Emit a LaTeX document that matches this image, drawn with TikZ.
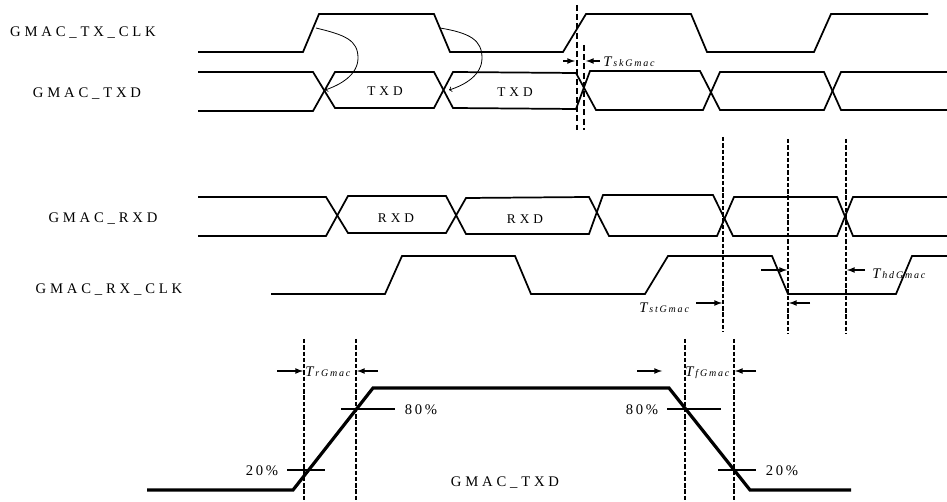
\documentclass[tikz,border=0pt]{standalone}
\usepackage{fontspec}
\setmainfont{Liberation Serif}
\newfontfamily\sigfont[LetterSpace=26]{Liberation Serif}
\newfontfamily\datafont[LetterSpace=30]{Liberation Serif}
\newfontfamily\pctfont[LetterSpace=18]{Liberation Serif}
\newfontfamily\subfont[LetterSpace=18,Ligatures=NoCommon]{Liberation Serif}
\newcommand{\tparam}[1]{{\fontsize{11}{11}\selectfont\itshape T}\hspace{1.5pt}{\subfont\fontsize{7.5}{8}\selectfont\itshape #1}}
\tikzset{
	signal/.style={line width=1.3pt, line join=miter},
	edge/.style={line width=2.4pt, line join=miter},
	marker/.style={line width=1.1pt, dash pattern=on 3.3pt off 1.4pt},
	heavymarker/.style={line width=2.2pt, dash pattern=on 4.5pt off 2.4pt},
	measure/.style={line width=1pt, ->, >=latex},
	level/.style={line width=1pt},
	siglabel/.style={font=\sigfont\fontsize{11}{11}\selectfont, inner sep=0pt},
	datalabel/.style={font=\datafont\fontsize{10}{10}\selectfont, inner sep=0pt},
	pctlabel/.style={font=\pctfont\fontsize{11}{11}\selectfont, inner sep=0pt},
	paramlabel/.style={anchor=west, inner sep=0pt}
}
\begin{document}
\begin{tikzpicture}[x=0.75pt, y=-0.75pt]
		\useasboundingbox (0,0) rectangle (947,502);
		%signal names
		\node[siglabel] (txclk) at (83, 33){GMAC\_TX\_CLK};
		\node[siglabel] (txd) at (87, 94){GMAC\_TXD};
		\node[siglabel] (rxd) at (103, 219){GMAC\_RXD};
		\node[siglabel] (rxclk) at (109, 290){GMAC\_RX\_CLK};
		\node[siglabel] (edgetxd) at (505, 483){GMAC\_TXD};

		\node[datalabel] (txda) at (385, 91){TXD};
		\node[datalabel] (txdb) at (515, 92){TXD};
		\node[datalabel] (rxda) at (396, 218){RXD};
		\node[datalabel] (rxdb) at (525, 219){RXD};

		%transmit clock
		\draw[signal] (198,52) -- (303,52) -- (319,14) -- (434,14) -- (450,52) -- (563,52) -- (586,14) -- (691,14) -- (707,52) -- (814,52) -- (831,14) -- (928,14);

		%transmit data
		\draw[signal] (198,72) -- (313,72) -- (335,108) -- (434,108) -- (453,72) -- (576,73) -- (596,110) -- (703,110) -- (720,72) -- (824,72) -- (841,110) -- (947,110);
		\draw[signal] (198,111) -- (313,111) -- (335,72) -- (434,72) -- (453,108) -- (576,109) -- (590,71) -- (700,71) -- (720,110) -- (824,110) -- (841,72) -- (947,72);

		%receive data
		\draw[signal] (198,197) -- (326,197) -- (348,233) -- (446,233) -- (466,198) -- (589,197) -- (609,236) -- (717,236) -- (734,197) -- (837,197) -- (853,236) -- (947,236);
		\draw[signal] (198,236) -- (326,236) -- (348,196) -- (446,196) -- (466,234) -- (589,234) -- (603,195) -- (713,195) -- (733,236) -- (837,236) -- (853,197) -- (947,197);

		%receive clock
		\draw[signal] (271,294) -- (385,294) -- (402,256) -- (515,256) -- (531,294) -- (645,294) -- (668,256) -- (772,256) -- (788,294) -- (896,294) -- (912,256) -- (947,256);

		%clock to data
		\coordinate (clka) at (316,28);
		\coordinate (dataa) at (325,90);
		\coordinate (clkb) at (440,28);
		\coordinate (datab) at (449,90);
		\draw[line width=0.6pt, ->] (clka) .. controls (345,35) and (358,40) .. (358,58) .. controls (358,75) and (340,85) .. (dataa);
		\draw[line width=0.6pt, ->] (clkb) .. controls (470,33) and (482,40) .. (482,58) .. controls (482,75) and (465,85) .. (datab);

		%skew
		\draw[heavymarker] (577,5) -- (577,130);
		\draw[heavymarker] (584,45) -- (584,130);
		\draw[measure] (563,61) -- (575,61);
		\draw[measure] (600,61) -- (586,61);
		\node[paramlabel] (tsk) at (603, 62){\tparam{skGmac}};

		%setup and hold
		\draw[marker] (723,137) -- (723,332);
		\draw[marker] (788,139) -- (788,334);
		\draw[marker] (846,139) -- (846,334);
		\draw[measure] (696,303) -- (722,303);
		\node[paramlabel] (tst) at (639, 308){\tparam{stGmac}};
		\draw[measure] (761,270) -- (787,270);
		\draw[measure] (810,303) -- (789,303);
		\draw[measure] (865,270) -- (847,270);
		\node[paramlabel] (thd) at (872, 274){\tparam{hdGmac}};

		%rise and fall
		\foreach \x in {304, 356, 685, 734}{
			\draw[marker] (\x,339) -- (\x,502);
		}
		\draw[edge] (147,490) -- (293,490) -- (373,388) -- (669,388) -- (750,490) -- (851,490);

		\draw[level] (341,409) -- (395,409);
		\draw[level] (287,470) -- (325,470);
		\draw[level] (667,409) -- (721,409);
		\draw[level] (718,470) -- (756,470);
		\node[pctlabel] (hia) at (421, 410){80\%};
		\node[pctlabel] (loa) at (262, 471){20\%};
		\node[pctlabel] (hib) at (642, 410){80\%};
		\node[pctlabel] (lob) at (782, 471){20\%};

		\draw[measure] (277,371) -- (303,371);
		\draw[measure] (378,371) -- (357,371);
		\draw[measure] (637,371) -- (662,371);
		\draw[measure] (756,371) -- (735,371);
		\node[paramlabel] (tr) at (305, 372){\tparam{rGmac}};
		\node[paramlabel] (tf) at (685, 373){\tparam{fGmac}};
\end{tikzpicture}
\end{document}
